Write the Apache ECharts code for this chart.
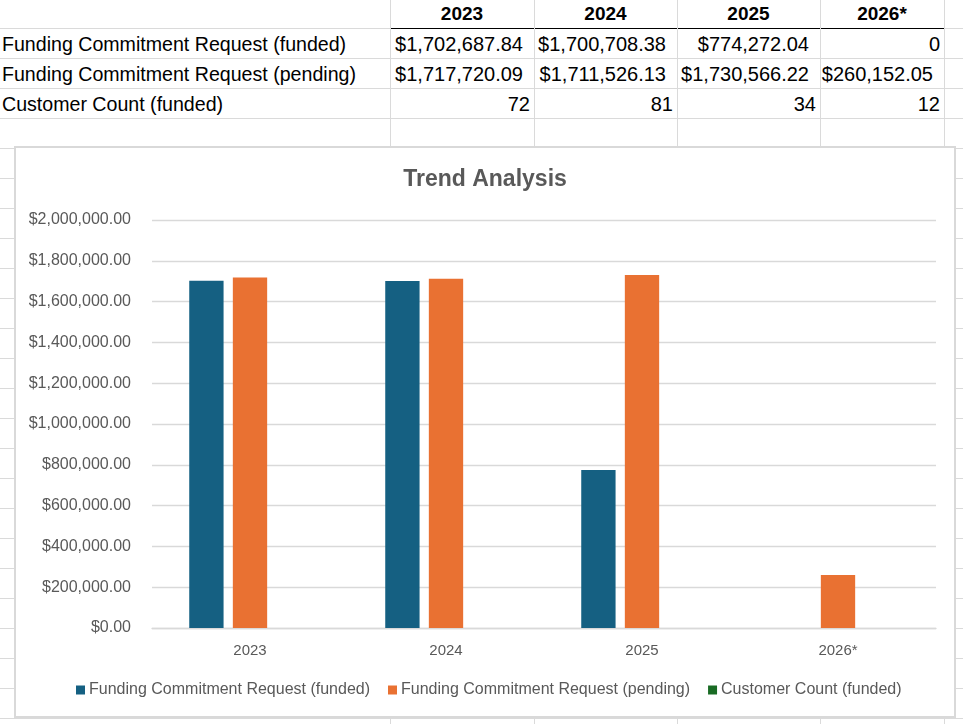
<!DOCTYPE html>
<html>
<head>
<meta charset="utf-8">
<script src="https://cdn.jsdelivr.net/npm/echarts@6/dist/echarts.min.js"></script>
<style>
  html, body { margin: 0; padding: 0; background: #fff; }
  #sheet { position: relative; width: 963px; height: 724px; overflow: hidden; font-family: "Liberation Sans", Arial, sans-serif; }
  .hl { position: absolute; height: 1px; background: #DADADA; }
  .vl { position: absolute; width: 1px; background: #DADADA; }
  .cell { position: absolute; height: 30px; line-height: 30px; font-size: 20px; color: #000; white-space: nowrap; }
  .hdr { font-weight: bold; text-align: center; height: 28px; line-height: 28px; font-size: 19px; }
  #chartBox { position: absolute; left: 14px; top: 146px; width: 942px; height: 572px; box-sizing: border-box; border: 2px solid #D9D9D9; background: #fff; }
  #chart { width: 938px; height: 568px; }
</style>
</head>
<body>
<div id="sheet">
  <div id="chartBox"><div id="chart"></div></div>
</div>
<script>
// ---- data ----
const categories = ['2023', '2024', '2025', '2026*'];
const seriesNames = ['Funding Commitment Request (funded)', 'Funding Commitment Request (pending)', 'Customer Count (funded)'];
const fundedValues = [1702687.84, 1700708.38, 774272.04, 0];
const pendingValues = [1717720.09, 1711526.13, 1730566.22, 260152.05];
const customerCounts = [72, 81, 34, 12];
const yTickValues = [0, 200000, 400000, 600000, 800000, 1000000, 1200000, 1400000, 1600000, 1800000, 2000000];

// ---- spreadsheet grid ----
const sheet = document.getElementById('sheet');
const colEdges = [0, 390, 534, 677, 820, 944];
function addEl(cls, style, text) {
  const d = document.createElement('div');
  d.className = cls;
  Object.assign(d.style, style);
  if (text !== undefined) d.textContent = text;
  sheet.insertBefore(d, document.getElementById('chartBox'));
  return d;
}
for (let y = 28; y <= 724; y += 30) {
  addEl('hl', { left: '0px', top: y + 'px', width: '963px' });
}
addEl('hl', { left: '390px', top: '28px', width: '555px', background: '#000' });
for (let i = 1; i < colEdges.length; i++) {
  addEl('vl', { left: colEdges[i] + 'px', top: '0px', height: '724px' });
}
categories.forEach((c, i) => {
  addEl('cell hdr', { left: colEdges[i + 1] + 'px', top: '0px', width: (colEdges[i + 2] - colEdges[i + 1]) + 'px' }, c);
});
function fmtCurrency(v) {
  return '$' + v.toLocaleString('en-US', { minimumFractionDigits: 2, maximumFractionDigits: 2 });
}
const rows = [
  { name: seriesNames[0], values: fundedValues, currency: true },
  { name: seriesNames[1], values: pendingValues, currency: true },
  { name: seriesNames[2], values: customerCounts, currency: false }
];
rows.forEach((r, ri) => {
  const top = 29 + ri * 30;
  addEl('cell', { left: '2px', top: top + 'px', fontSize: '19.6px' }, r.name);
  r.values.forEach((v, ci) => {
    const isCur = r.currency && v !== 0;
    const txt = isCur ? fmtCurrency(v) : String(v);
    const left = colEdges[ci + 1];
    const w = colEdges[ci + 2] - left;
    addEl('cell', { left: left + 'px', top: top + 'px', width: (w - (isCur ? 11 : 4)) + 'px', textAlign: 'right' }, txt);
  });
});

// ---- chart ----
const chart = echarts.init(document.getElementById('chart'), null, { renderer: 'canvas' });
const labelColor = '#595959';
const font = '"Liberation Sans", Arial, sans-serif';
chart.setOption({
  animation: false,
  textStyle: { fontFamily: font },
  title: {
    text: 'Trend Analysis', left: 'center', top: 20, padding: 0,
    textStyle: { fontSize: 23, fontWeight: 'bold', color: labelColor, fontFamily: font }
  },
  legend: {
    data: seriesNames, left: 60, top: 534, padding: 0,
    itemWidth: 9, itemHeight: 9, itemGap: 18, icon: 'rect',
    textStyle: { fontSize: 16, color: labelColor, fontFamily: font, padding: [0, 0, 0, -1] }
  },
  grid: { left: 136, right: 18, top: 72, bottom: 88, containLabel: false },
  xAxis: {
    type: 'category', data: categories,
    axisLine: { lineStyle: { color: '#D9D9D9', width: 1.3 } },
    axisTick: { show: false },
    axisLabel: { fontSize: 15, color: labelColor, margin: 15, fontFamily: font }
  },
  yAxis: {
    type: 'value', min: 0, max: 2000000, interval: 200000,
    axisLine: { show: false }, axisTick: { show: false },
    splitLine: { lineStyle: { color: '#D9D9D9', width: 1.3 } },
    axisLabel: {
      fontSize: 16, color: labelColor, margin: 21, fontFamily: font,
      formatter: v => fmtCurrency(v)
    }
  },
  series: [
    { name: seriesNames[0], type: 'bar', data: fundedValues, itemStyle: { color: '#156082' }, barGap: '27%', barCategoryGap: '38%' },
    { name: seriesNames[1], type: 'bar', data: pendingValues, itemStyle: { color: '#E97132' } },
    { name: seriesNames[2], type: 'bar', data: customerCounts, itemStyle: { color: '#196B24' } }
  ]
});
</script>
</body>
</html>
